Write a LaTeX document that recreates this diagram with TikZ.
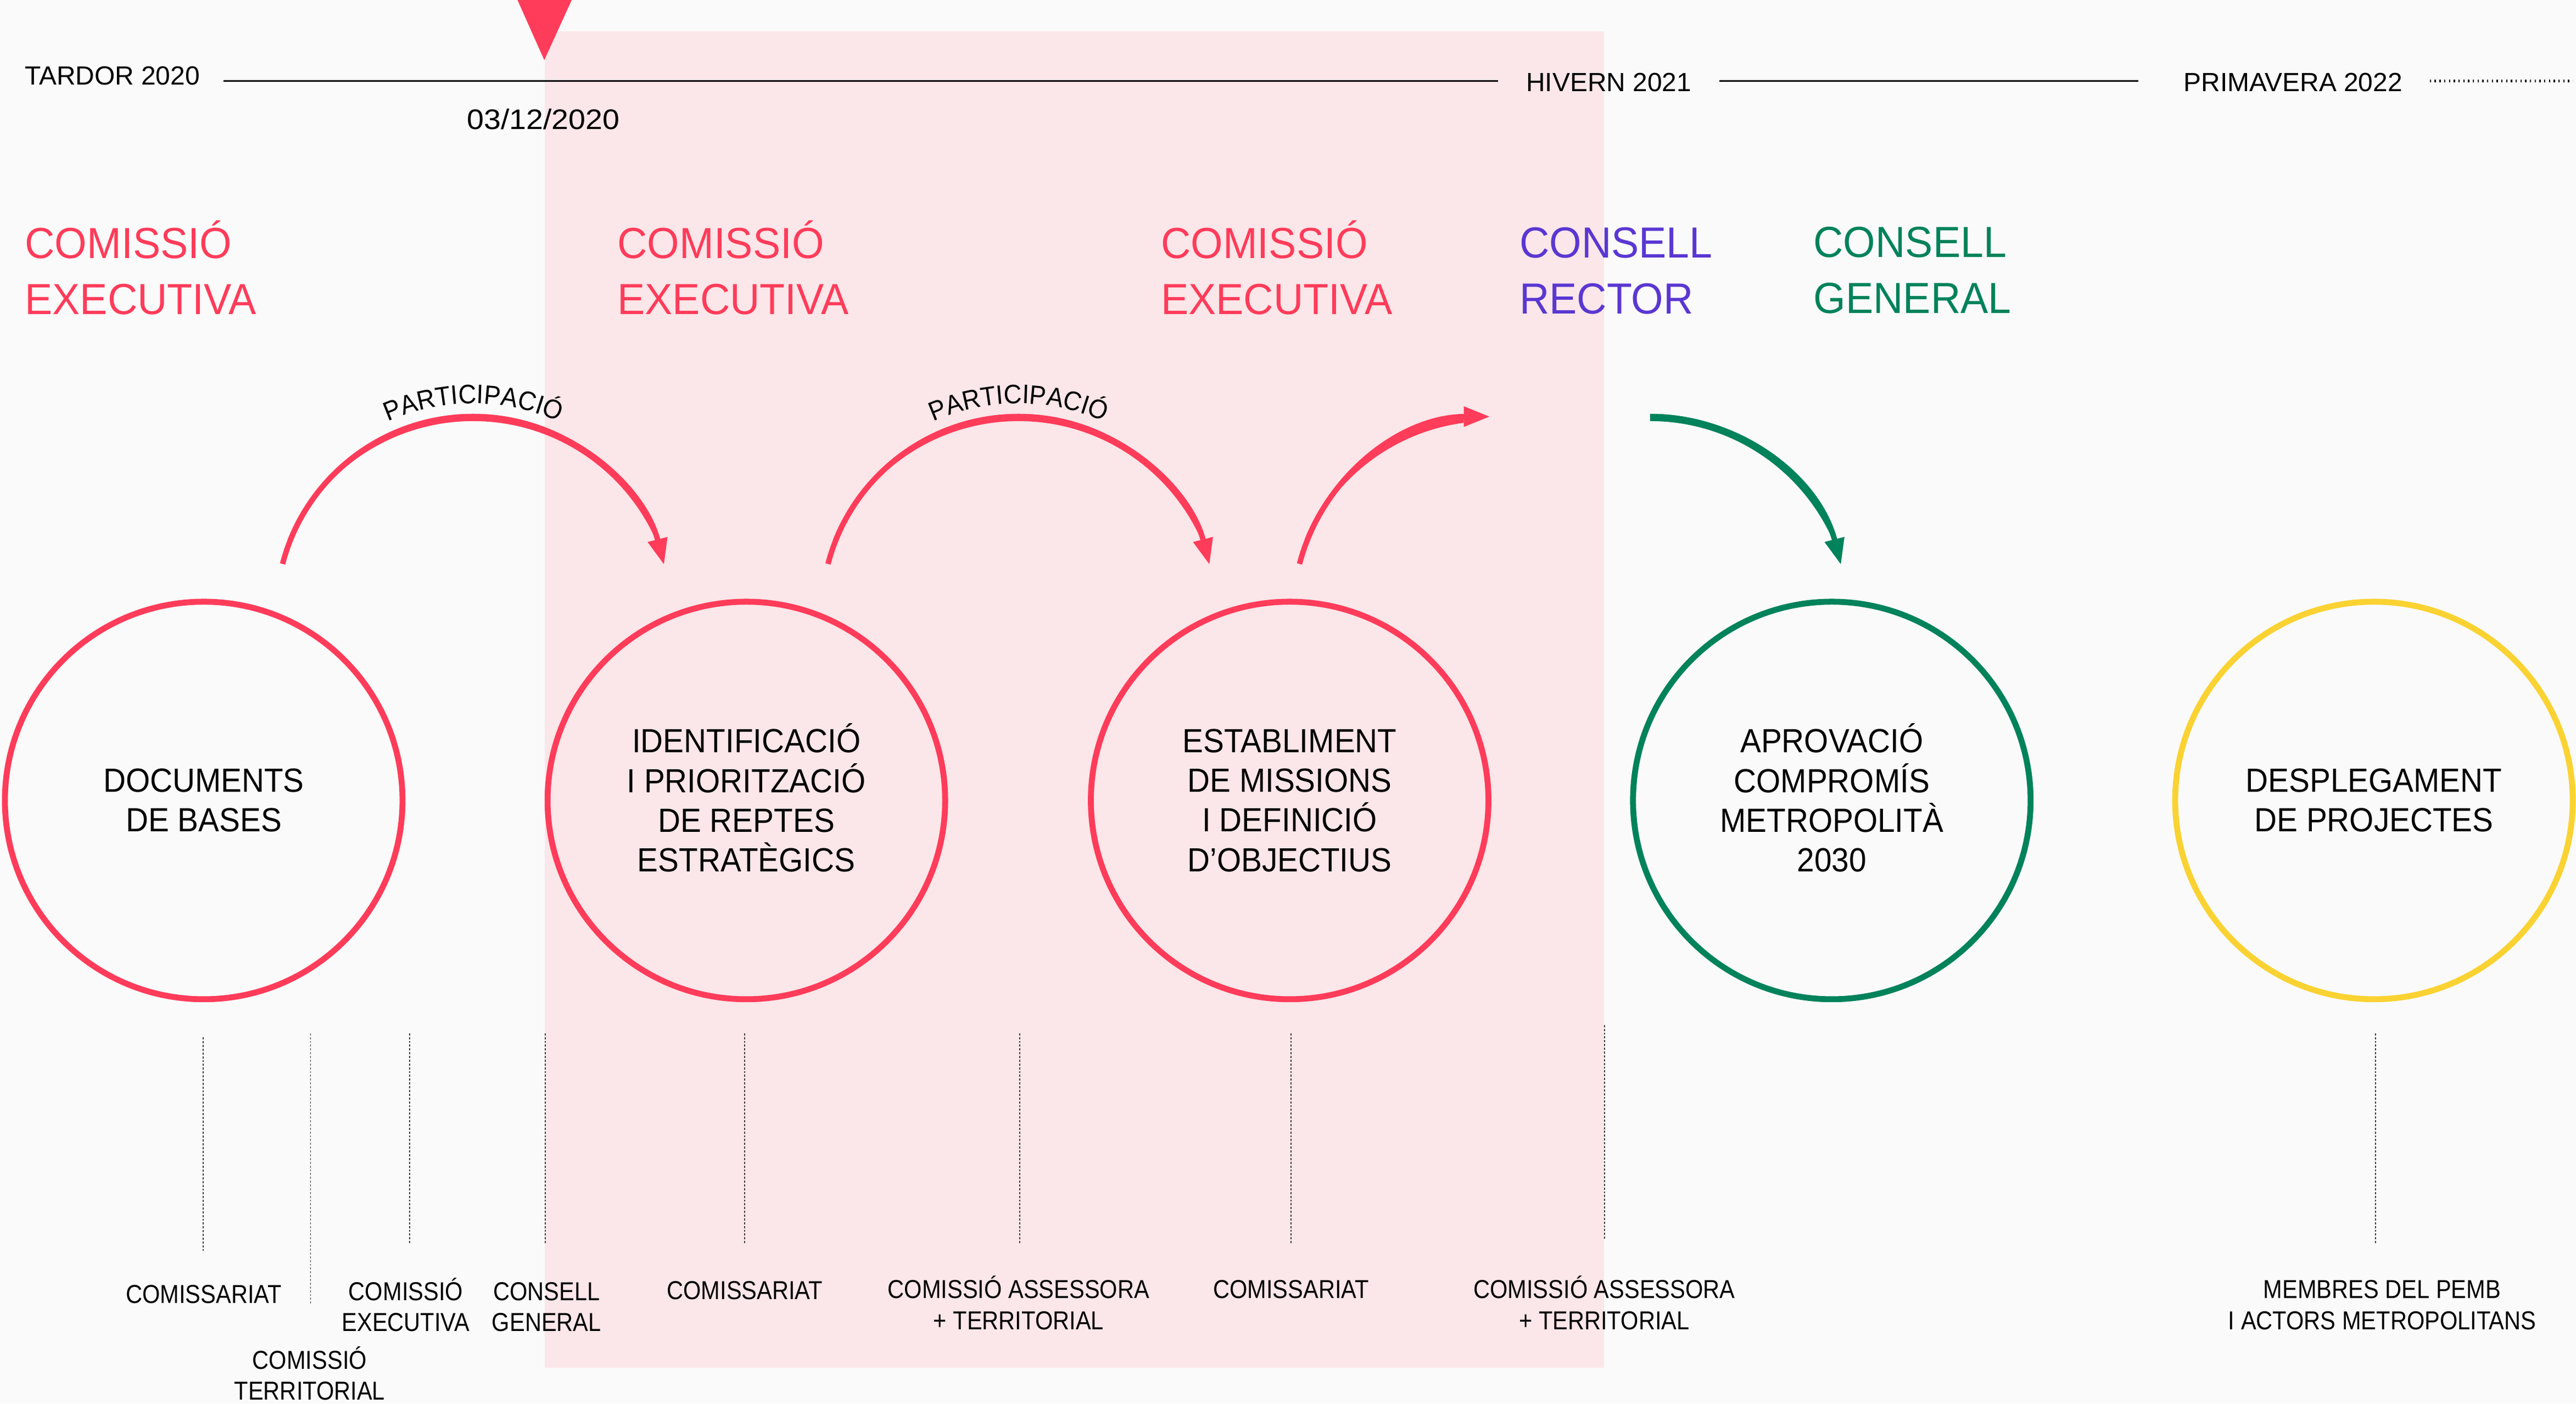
\documentclass[tikz,border=0pt]{standalone}
\usepackage{fontspec}
\setmainfont{Liberation Sans}
\newfontfamily\fTime{Liberation Sans}
\newfontfamily\fDate{Liberation Sans}[FakeStretch=1.08]
\newfontfamily\fHead{Liberation Sans}[FakeStretch=0.95]
\newfontfamily\fCirc{Liberation Sans}[FakeStretch=0.93]
\newfontfamily\fLab{Liberation Sans}[FakeStretch=0.88]
\usetikzlibrary{arrows.meta,decorations.text,calc}
\definecolor{bgc}{RGB}{250,250,250}
\definecolor{pinkbg}{RGB}{251,230,233}
\definecolor{redc}{RGB}{255,60,90}
\definecolor{purc}{RGB}{90,55,210}
\definecolor{grnc}{RGB}{0,130,90}
\definecolor{yelc}{RGB}{250,210,50}
\definecolor{dashc}{RGB}{60,60,60}
\tikzset{
 tl/.style={inner sep=0pt, font=\fTime\fontsize{16}{19}\selectfont, text=black},
 hd/.style={inner sep=0pt, anchor=base west, align=left, font=\fHead\fontsize{26.5}{34}\selectfont},
 circ/.style={circle, minimum size=242pt, inner sep=0pt, line width=3.6pt, align=center, font=\fCirc\fontsize{20.4}{24.1}\selectfont},
 lab/.style={inner sep=0pt, align=center, anchor=base, font=\fLab\fontsize{15.8}{18.8}\selectfont},
 dsh/.style={line width=0.6pt, dashc, dash pattern=on 1.3pt off 1pt},
 arcr/.style={line width=3.3pt, -{Triangle[length=16pt,width=11.5pt]}},
 ptxt/.style={decorate, decoration={text along path, text align=center, text={|\fCirc\fontsize{16.3}{16}\selectfont|PARTICIPACIÓ}}},
}
\begin{document}
\begin{tikzpicture}[x=1pt,y=1pt]
\fill[bgc] (0,0) rectangle (1568,854.4);
\useasboundingbox (0,0) rectangle (1568,854.4);
\fill[pinkbg] (331.5,21.9) rectangle (976.5,835.3);
\fill[redc] (315,854.4) -- (348,854.4) -- (331.3,817.8) -- cycle;

% timeline
\node[tl, anchor=base west] (t1) at (15,802.9) {TARDOR 2020};
\node[tl, anchor=base west] (t2) at (928.8,798.9) {HIVERN 2021};
\node[tl, anchor=base west] (t3) at (1329,798.9) {PRIMAVERA 2022};
\node[tl, anchor=base, font=\fDate\fontsize{17.2}{19}\selectfont] (date) at (330.7,775.6) {03/12/2020};
\coordinate (l1a) at (136,805.1);
\coordinate (l1b) at (912,805.1);
\coordinate (l2a) at (1046.6,805.1);
\coordinate (l2b) at (1301.5,805.1);
\coordinate (l3a) at (1479,805.1);
\coordinate (l3b) at (1566,805.1);
\draw[line width=0.8pt] (l1a) -- (l1b);
\draw[line width=0.8pt] (l2a) -- (l2b);
\draw[line width=1.8pt, dash pattern=on 0.8pt off 2.1pt] (l3a) -- (l3b);

% headers (anchor = baseline of the last line)
\node[hd, text=redc] (h1) at (15,663) {COMISSIÓ\\EXECUTIVA};
\node[hd, text=redc] (h2) at (375.6,663) {COMISSIÓ\\EXECUTIVA};
\node[hd, text=redc] (h3) at (706.5,663) {COMISSIÓ\\EXECUTIVA};
\node[hd, text=purc] (h4) at (924.7,663.4) {CONSELL\\RECTOR};
\node[hd, text=grnc] (h5) at (1103.7,663.8) {CONSELL\\GENERAL};

% thick tops of the arcs
\begin{scope}
\clip (150,526) rectangle (430,640);
\fill[redc, even odd rule] (288,480.9) circle[radius=121.55] (288,476.5) circle[radius=121.55];
\end{scope}
\begin{scope}
\clip (480,526) rectangle (760,640);
\fill[redc, even odd rule] (620,480.9) circle[radius=121.55] (620,476.5) circle[radius=121.55];
\end{scope}
\begin{scope}
\clip (780,526) rectangle (891,640);
\fill[redc, even odd rule] (907,480.9) circle[radius=121.55] (907,476.5) circle[radius=121.55];
\end{scope}
\begin{scope}
\clip (1004.4,526) rectangle (1140,640);
\fill[grnc, even odd rule] (1004.4,480.9) circle[radius=121.55] (1004.4,476.5) circle[radius=121.55];
\end{scope}

% arcs
\coordinate (a1s) at (172.0,511.1);
\coordinate (a2s) at (504.0,511.1);
\coordinate (a3s) at (791.0,511.1);
\coordinate (a4s) at (1004.4,600.8);
\draw[arcr, redc] (a1s) arc[start angle=165.4, end angle=14.3, radius=119.9];
\draw[arcr, redc] (a2s) arc[start angle=165.4, end angle=14.3, radius=119.9];
\draw[arcr, redc] (a3s) arc[start angle=165.4, end angle=90, radius=119.9];
\draw[arcr, grnc] (a4s) arc[start angle=90, end angle=14.3, radius=119.9];

\path[ptxt] ($(288,480.9)+(160:127.8)$) arc[start angle=160, end angle=20, radius=127.8];
\path[ptxt] ($(620,480.9)+(160:127.8)$) arc[start angle=160, end angle=20, radius=127.8];

% circles
\node[circ, draw=redc] (c1) at (124,367.1) {DOCUMENTS\\DE BASES};
\node[circ, draw=redc] (c2) at (454.3,367.1) {IDENTIFICACIÓ\\I PRIORITZACIÓ\\DE REPTES\\ESTRATÈGICS\rule[-3.5pt]{0pt}{3.5pt}};
\node[circ, draw=redc] (c3) at (785,367.1) {ESTABLIMENT\\DE MISSIONS\\I DEFINICIÓ\\D’OBJECTIUS};
\node[circ, draw=grnc] (c4) at (1115,367.1) {APROVACIÓ\\COMPROMÍS\\METROPOLITÀ\\2030\rule[-3.5pt]{0pt}{3.5pt}};
\node[circ, draw=yelc] (c5) at (1445,367.1) {DESPLEGAMENT\\DE PROJECTES};

% dashed leaders
\coordinate (d1t) at (123.6,222.9); \coordinate (d1b) at (123.6,91.8);
\coordinate (d2t) at (189,225.4);   \coordinate (d2b) at (189,60.4);
\coordinate (d3t) at (249.4,225.4); \coordinate (d3b) at (249.4,97.4);
\coordinate (d4t) at (331.9,225.4); \coordinate (d4b) at (331.9,97.4);
\coordinate (d5t) at (453.3,225.4); \coordinate (d5b) at (453.3,97.4);
\coordinate (d6t) at (620.7,225.4); \coordinate (d6b) at (620.7,97.4);
\coordinate (d7t) at (785.8,225.4); \coordinate (d7b) at (785.8,97.4);
\coordinate (d8t) at (976.6,230.4); \coordinate (d8b) at (976.6,99.4);
\coordinate (d9t) at (1446,225.4);  \coordinate (d9b) at (1446,97.4);
\foreach \i in {1,...,9} {\draw[dsh] (d\i t) -- (d\i b);}

% labels (anchor = baseline of the last line)
\node[lab] (b1) at (124,60.9) {COMISSARIAT};
\node[lab] (b2) at (188.5,2.2) {COMISSIÓ\\TERRITORIAL};
\node[lab] (b3) at (247,44) {COMISSIÓ\\EXECUTIVA};
\node[lab] (b4) at (332.7,44) {CONSELL\\GENERAL};
\node[lab] (b5) at (453.3,63.5) {COMISSARIAT};
\node[lab] (b6) at (620,45.1) {COMISSIÓ ASSESSORA\\+ TERRITORIAL};
\node[lab] (b7) at (785.8,63.9) {COMISSARIAT};
\node[lab] (b8) at (976.5,45.1) {COMISSIÓ ASSESSORA\\+ TERRITORIAL};
\node[lab] (b9) at (1450,45.1) {MEMBRES DEL PEMB\\I ACTORS METROPOLITANS};
\end{tikzpicture}
\end{document}
